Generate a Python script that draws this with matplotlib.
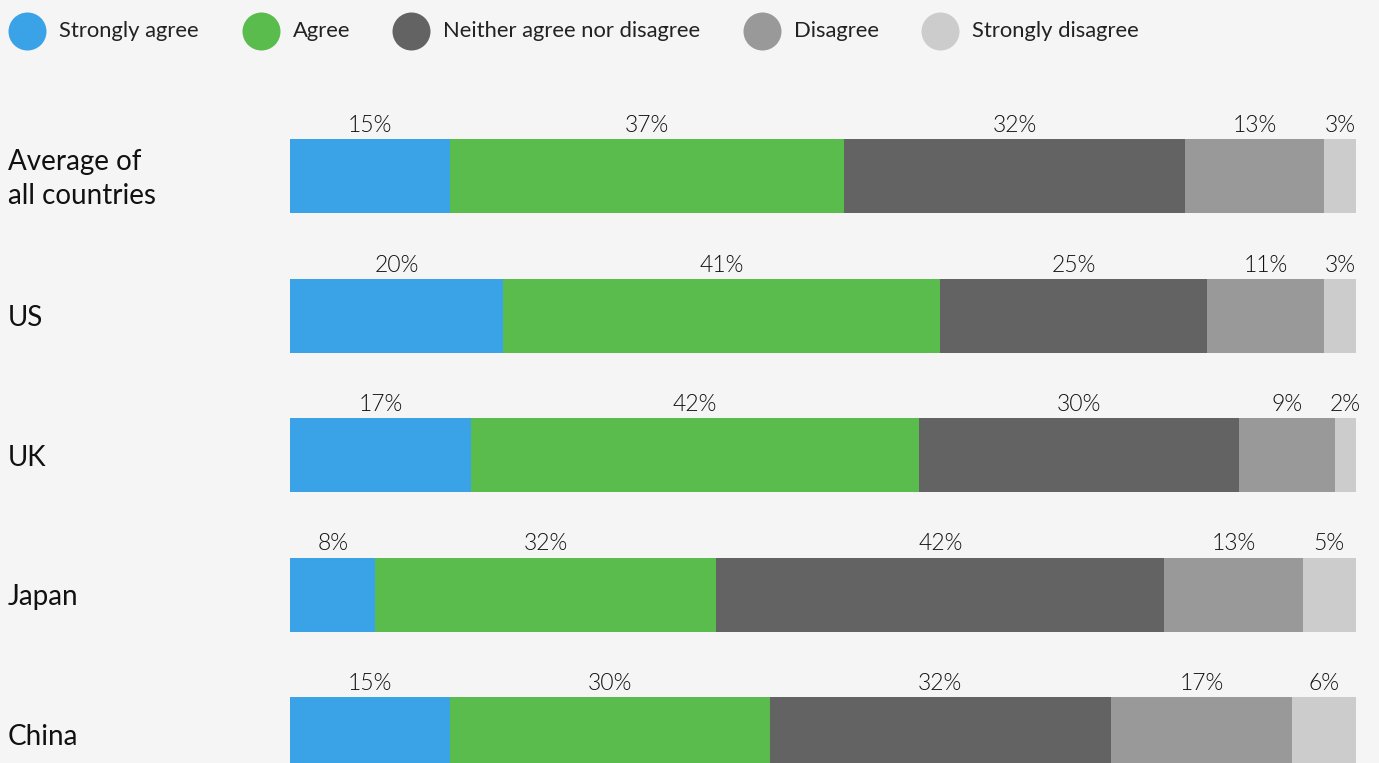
import numpy as np
import matplotlib
matplotlib.use("Agg")
import matplotlib.pyplot as plt
import matplotlib.transforms as mtransforms

# data
countries = ["Average of\nall countries", "US", "UK", "Japan", "China"]
answers = ["Strongly agree", "Agree", "Neither agree nor disagree", "Disagree", "Strongly disagree"]
strongly_agree = [15, 20, 17, 8, 15]
agree = [37, 41, 42, 32, 30]
neither = [32, 25, 30, 42, 32]
disagree = [13, 11, 9, 13, 17]
strongly_disagree = [3, 3, 2, 5, 6]

colores = ["#3aa2e6", "#5bbc4e", "#636363", "#999999", "#cccccc"]
bg = "#f5f5f5"

plt.rcParams["font.family"] = ["Lato", "DejaVu Sans"]

W, H = 1379, 763
fig = plt.figure(figsize=(W / 100, H / 100), dpi=100)
fig.patch.set_facecolor(bg)

# eje principal: x de 0 a 100 entre px 290 y 1356
ax = fig.add_axes([290 / W, 0, 1066 / W, 1])
ax.set_facecolor(bg)
row_px = 139.5
top_c = 176
ax.set_xlim(0, 100)
ax.set_ylim((H - top_c) / row_px, -top_c / row_px)
ax.axis("off")

series = np.array([strongly_agree, agree, neither, disagree, strongly_disagree])
bar_h = 74 / row_px
y = np.arange(len(countries))
lefts = np.zeros(len(countries))
for k in range(len(answers)):
    ax.barh(y, series[k], left=lefts, height=bar_h, color=colores[k], linewidth=0)
    for i in range(len(countries)):
        ax.text(lefts[i] + series[k][i] / 2, y[i] - bar_h / 2 - 3 / row_px,
                f"{series[k][i]}%", ha="center", va="bottom",
                fontsize=16.5, fontweight=300, color="#111111")
    lefts += series[k]

# etiquetas de paises (un poco mas abajo que el centro de la barra)
trans = mtransforms.blended_transform_factory(fig.transFigure, ax.transData)
for i, c in enumerate(countries):
    ax.text(8 / W, y[i] + 3 / row_px, c, transform=trans, ha="left", va="center",
            fontsize=20, color="#111111", linespacing=1.4, clip_on=False)

# leyenda manual
lax = fig.add_axes([0, 0, 1, 1])
lax.set_xlim(0, W)
lax.set_ylim(H, 0)
lax.axis("off")
leg_x = [27, 261, 411, 762, 940]
for k, nombre in enumerate(answers):
    lax.scatter(leg_x[k], 31, s=(38 * 0.72) ** 2, color=colores[k], linewidths=0)
    lax.text(leg_x[k] + 32, 31, nombre, ha="left", va="center",
             fontsize=15.8, color="#222222")

fig.savefig("out.png", dpi=100, facecolor=bg)
